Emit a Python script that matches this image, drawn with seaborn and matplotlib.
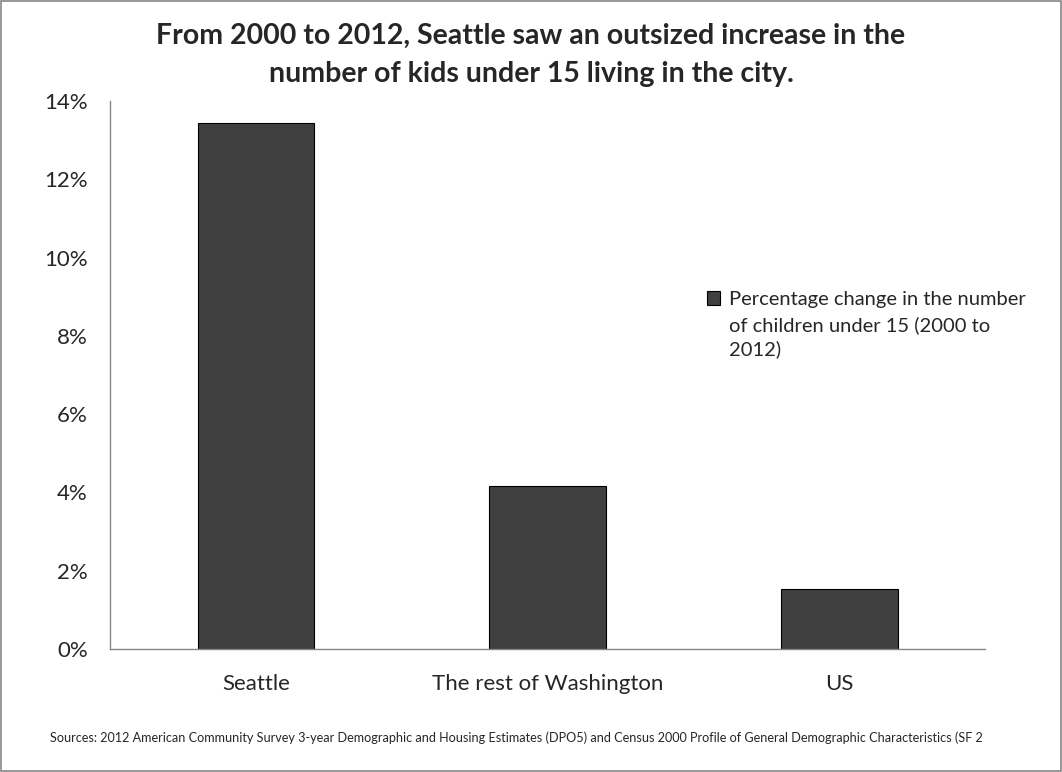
import matplotlib
matplotlib.use('Agg')
import matplotlib.pyplot as plt
from matplotlib.patches import Rectangle
from matplotlib.ticker import FuncFormatter
import seaborn as sns
import pandas as pd

# 数据
regions = ['Seattle', 'The rest of Washington', 'US']
pct_change = [13.45, 4.16, 1.53]
series_lines = ['Percentage change in the number', 'of children under 15 (2000 to', '2012)']
title = ('From 2000 to 2012, Seattle saw an outsized increase in the\n'
         'number of kids under 15 living in the city.')
source = ('Sources: 2012 American Community Survey 3-year Demographic and Housing '
          'Estimates (DPO5) and Census 2000 Profile of General Demographic Characteristics (SF 2')

sns.set_style('white')
plt.rcParams['font.family'] = ['Lato', 'DejaVu Sans']

df = pd.DataFrame({'region': regions, 'pct': pct_change, 'series': series_lines[0]})

fig = plt.figure(figsize=(10.62, 7.72), dpi=100)
ax = fig.add_axes([0.1036, 0.1593, 0.8239, 0.7099])

sns.barplot(data=df, x='region', y='pct', hue='series', palette=['#404040'],
            width=0.4, edgecolor='black', linewidth=0.8, ax=ax)

ax.set_ylim(0, 14)
ax.set_xlim(-0.5, 2.5)
ax.set_yticks(range(0, 15, 2))
ax.yaxis.set_major_formatter(FuncFormatter(lambda v, p: f'{v:.0f}%'))
ax.tick_params(axis='y', labelsize=16, length=0, pad=16)
ax.tick_params(axis='x', labelsize=16, length=0, pad=18)
ax.set_xlabel('')
ax.set_ylabel('')
for s in ['top', 'right']:
    ax.spines[s].set_visible(False)
for s in ['left', 'bottom']:
    ax.spines[s].set_color('#868686')
    ax.spines[s].set_linewidth(1)

# 图例：方块对齐第一行，其余两行手动续写
leg = ax.legend(loc='upper left', bbox_to_anchor=(0.666, 0.623),
                bbox_transform=fig.transFigure, frameon=False, fontsize=14.5,
                handlelength=0.65, handleheight=0.65, handletextpad=0.45,
                borderpad=0, borderaxespad=0)
fig.canvas.draw()
bb = leg.get_texts()[0].get_window_extent().transformed(fig.transFigure.inverted())
fig.text(bb.x0, bb.y0 - 0.010, '\n'.join(series_lines[1:]), fontsize=14.5,
         va='top', ha='left', linespacing=1.45)

fig.text(0.5, 0.970, title, fontsize=20.5, fontweight='bold', ha='center', va='top',
         linespacing=1.55)
fig.text(0.047, 0.039, source, fontsize=9.1)

fig.patches.append(Rectangle((0.001, 0.001), 0.998, 0.998, transform=fig.transFigure,
                             fill=False, edgecolor='#868686', linewidth=1.2))

fig.savefig('out.png', dpi=100)
